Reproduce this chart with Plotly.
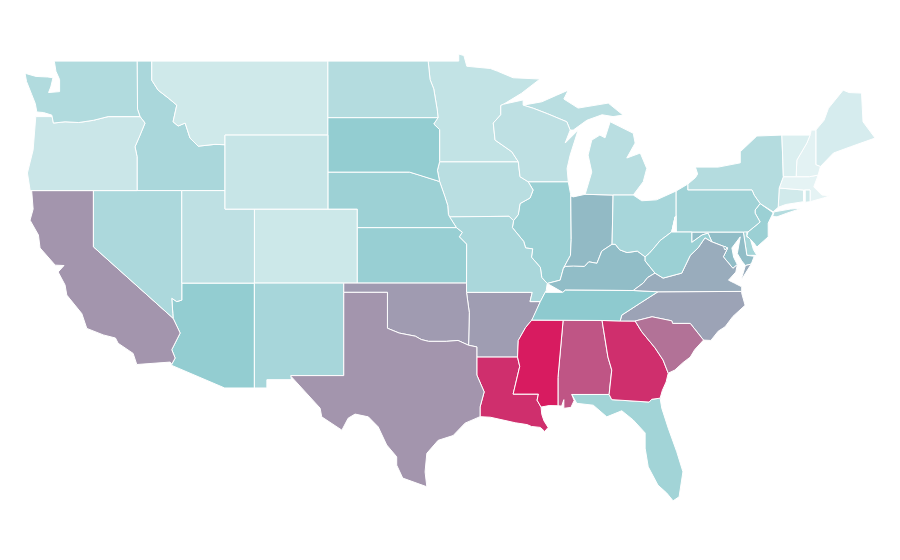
"""
US states coloured by value, on a plain lon/lat plot.

The geo subplot needs a topojson file from the CDN and there is no network,
so the state outlines are rough lon/lat lists written out here.
"""

import plotly.colors as pc
import plotly.graph_objects as go

states = ["AL", "AZ", "AR", "CA", "CO", "CT", "DE", "FL", "GA", "ID", "IL", "IN", "IA", "KS", "KY", "LA",
          "ME", "MD", "MA", "MI", "MN", "MS", "MO", "MT", "NE", "NV", "NH", "NJ", "NM", "NY", "NC", "ND",
          "OH", "OK", "OR", "PA", "RI", "SC", "SD", "TN", "TX", "UT", "VT", "VA", "WA", "WV", "WI", "WY", "DC"]
values = [80, 37, 55, 58, 14, 12, 30, 31, 93, 28, 34, 45, 22, 35, 44, 93,
          10, 44, 4, 22, 18, 100, 28, 13, 33, 27, 5, 34, 29, 24, 53, 24,
          29, 56, 15, 32, 13, 70, 37, 39, 58, 20, 8, 50, 25, 34, 20, 16, 44]

colorscale = [[0, "#eff8f8"], [0.4, "#8cc9ce"], [1, "#d81b60"]]

# Shared borders, as (lon, lat)
mn_wi = [(-92.1, 46.67), (-92.29, 46.6), (-92.29, 46.1), (-92.8, 45.65), (-92.68, 44.73), (-91.54, 44.1), (-91.1, 43.56)]
wi_ia = [(-91.1, 43.56), (-90.98, 42.75), (-90.43, 42.48)]
il_ia = [(-90.43, 42.48), (-90.09, 42.03), (-90.3, 41.6), (-90.98, 41.3), (-91.1, 40.7), (-91.42, 40.38)]
il_mo = [(-91.42, 40.38), (-91.5, 40.0), (-90.73, 39.25), (-90.6, 38.9), (-90.12, 38.85), (-90.2, 38.4), (-89.6, 37.85), (-89.5, 37.3), (-89.13, 36.98)]
ky_mo = [(-89.13, 36.98), (-89.2, 36.6), (-89.27, 36.5)]
tn_mo = [(-89.27, 36.5), (-89.6, 36.0)]
tn_ar = [(-89.6, 36.0), (-90.07, 35.13), (-90.18, 35.0)]
ms_ar = [(-90.18, 35.0), (-90.6, 34.6), (-91.1, 33.9), (-91.15, 33.0)]
ms_la = [(-91.15, 33.0), (-91.0, 32.5), (-91.45, 31.0), (-89.73, 31.0), (-89.82, 30.67), (-89.55, 30.3)]
il_ky = [(-89.13, 36.98), (-88.25, 37.16), (-88.03, 37.8)]
in_ky = [(-88.03, 37.8), (-87.9, 37.9), (-87.36, 37.92), (-86.6, 37.9), (-86.3, 38.15), (-85.75, 38.07), (-85.42, 38.73), (-84.72, 39.1)]
oh_ky = [(-84.72, 39.1), (-84.5, 39.1), (-84.2, 38.8), (-83.7, 38.65), (-83.0, 38.73), (-82.47, 38.42)]
oh_wv = [(-82.47, 38.42), (-82.2, 38.6), (-81.8, 38.96), (-81.45, 39.3), (-80.66, 39.77), (-80.43, 40.58)]
ky_wv_va = [(-82.47, 38.42), (-82.47, 38.2), (-81.8, 37.54)]
va_wv = [(-81.8, 37.54), (-81.25, 37.27), (-79.98, 37.54), (-79.4, 38.5), (-78.87, 38.9), (-78.4, 39.45), (-77.93, 39.23)]
md_va = [(-76.2, 38.0), (-76.5, 37.8), (-77.15, 38.42), (-76.85, 38.9), (-77.93, 39.23)]
md_wv = [(-77.93, 39.23), (-78.19, 39.7), (-78.6, 39.6), (-79.3, 39.2), (-79.3, 39.76)]
wa_or = [(-116.83, 46.0), (-119.0, 46.0), (-120.0, 45.8), (-121.0, 45.68), (-121.93, 45.72), (-122.72, 45.65), (-122.83, 46.08), (-123.4, 46.22), (-123.85, 46.25)]
id_or = [(-117.03, 42.0), (-117.03, 43.83), (-117.17, 44.37), (-116.85, 44.95), (-116.49, 45.65), (-116.83, 46.0)]
id_mt = [(-116.03, 49.0), (-116.03, 47.97), (-115.6, 47.43), (-114.9, 47.0), (-114.33, 46.62), (-114.58, 45.72), (-114.24, 45.49), (-113.76, 45.65), (-113.43, 44.84), (-112.87, 44.4), (-111.73, 44.5), (-111.05, 44.48)]
ca_az = [(-114.58, 35.1), (-114.1, 34.3), (-114.67, 33.4), (-114.44, 32.95), (-114.67, 32.62)]
nv_az = [(-113.99, 36.08), (-114.33, 36.0), (-114.67, 36.18), (-114.6, 35.37), (-114.58, 35.1)]
nd_mn = [(-97.23, 49.0), (-97.1, 48.0), (-96.85, 47.5), (-96.6, 46.3), (-96.56, 45.94)]
sd_mn = [(-96.56, 45.94), (-96.85, 45.6), (-96.45, 45.3), (-96.45, 43.56)]
sd_ia = [(-96.45, 43.56), (-96.6, 43.1), (-96.45, 42.49)]
sd_ne = [(-96.45, 42.49), (-97.85, 42.85), (-98.5, 43.0), (-104.05, 43.0)]
ne_ia = [(-96.45, 42.49), (-96.1, 41.7), (-95.9, 41.2), (-95.85, 40.7), (-95.77, 40.58)]
ne_mo = [(-95.77, 40.58), (-95.31, 40.0)]
ks_mo = [(-95.31, 40.0), (-94.9, 39.75), (-95.1, 39.5), (-94.61, 39.11), (-94.62, 37.0)]
ok_tx = [(-100.0, 36.5), (-100.0, 34.56), (-99.2, 34.3), (-98.1, 34.13), (-97.7, 33.95), (-97.2, 33.85), (-96.6, 33.85), (-96.0, 33.85), (-95.2, 33.9), (-94.48, 33.64)]
ar_ok = [(-94.62, 36.5), (-94.43, 35.4), (-94.48, 33.64)]
ar_tx_la = [(-94.48, 33.64), (-93.92, 33.55), (-93.92, 33.0)]
tx_la = [(-93.92, 33.0), (-93.92, 32.03), (-93.42, 31.12), (-93.7, 30.3), (-93.7, 29.78)]
ms_al = [(-88.05, 35.0), (-88.4, 31.9), (-88.4, 30.37)]
al_ga = [(-85.4, 34.98), (-85.0, 33.0), (-84.74, 32.3), (-84.85, 31.55), (-84.92, 30.98)]
ga_fl = [(-84.92, 30.98), (-84.74, 30.7), (-82.2, 30.57), (-82.02, 30.72), (-81.45, 30.78)]
ga_sc = [(-83.15, 34.95), (-82.7, 34.37), (-81.8, 33.5), (-81.25, 32.84), (-80.9, 32.13)]
nc_sc = [(-83.15, 34.95), (-82.0, 35.18), (-80.66, 34.96), (-80.6, 34.82), (-79.4, 34.82), (-78.5, 33.92)]
nc_tn = [(-84.17, 34.95), (-84.06, 35.27), (-82.8, 35.92), (-81.6, 36.53)]
ky_va = [(-83.28, 36.6), (-82.6, 37.0), (-82.3, 37.3), (-81.8, 37.54)]
pa_nj = [(-75.47, 39.77), (-74.65, 40.3), (-74.99, 40.78), (-74.99, 40.95), (-74.65, 41.3)]
in_il = [(-87.53, 41.71), (-87.5, 39.35), (-87.55, 38.5), (-88.03, 37.8)]
vt_nh = [(-71.25, 45.0), (-71.47, 44.57), (-72.15, 43.65), (-72.2, 42.75)]
wi_up = [(-90.77, 46.62), (-90.08, 46.45), (-89.1, 46.15), (-87.8, 45.72), (-87.57, 45.27)]


def rev(points):
    return points[::-1]


outlines = {
    "WA": [[(-124.65, 48.34), (-123.9, 48.17), (-123.1, 48.14), (-122.75, 48.1), (-122.9, 47.6), (-123.05, 47.3), (-122.3, 47.35), (-122.3, 48.0), (-122.55, 48.45), (-122.66, 49.0), (-117.03, 49.0), (-117.0, 46.4)] + wa_or + [(-123.95, 46.7), (-124.2, 47.2), (-124.55, 47.9)]],
    "OR": [rev(wa_or) + [(-123.92, 46.0), (-124.1, 44.2), (-124.49, 42.95), (-124.3, 42.0)] + id_or],
    "ID": [[(-117.03, 49.0)] + id_mt + [(-111.05, 42.0)] + id_or + [(-117.0, 46.4)]],
    "MT": [[(-116.03, 49.0), (-104.05, 49.0), (-104.05, 45.0), (-111.05, 45.0)] + rev(id_mt)],
    "WY": [[(-111.05, 45.0), (-104.05, 45.0), (-104.05, 41.0), (-111.05, 41.0)]],
    "CO": [[(-109.05, 41.0), (-102.05, 41.0), (-102.05, 37.0), (-109.05, 37.0)]],
    "UT": [[(-113.99, 42.0), (-111.05, 42.0), (-111.05, 41.0), (-109.05, 41.0), (-109.05, 37.0), (-113.99, 37.0)]],
    "NV": [[(-120.0, 42.0), (-113.99, 42.0), (-113.99, 37.0)] + nv_az + [(-120.0, 38.96)]],
    "AZ": [[(-113.99, 37.0), (-109.05, 37.0), (-109.05, 31.33), (-111.07, 31.33), (-114.67, 32.55)] + rev(ca_az) + rev(nv_az)],
    "NM": [[(-109.05, 37.0), (-102.97, 37.0), (-102.97, 32.0), (-106.57, 32.0), (-106.53, 31.78), (-108.2, 31.78), (-108.2, 31.33), (-109.05, 31.33)]],
    "CA": [[(-124.2, 42.0), (-120.0, 42.0), (-120.0, 38.96)] + ca_az + [(-114.78, 32.73), (-117.05, 32.6), (-117.3, 33.2), (-118.32, 33.75), (-118.5, 34.03), (-119.33, 34.2), (-120.45, 34.55), (-120.79, 35.35), (-121.81, 36.35), (-121.93, 36.9), (-122.4, 37.6), (-122.0, 37.95), (-122.6, 37.97), (-123.63, 38.9), (-123.74, 39.6), (-124.31, 40.4), (-124.1, 41.0)]],
    "ND": [[(-104.05, 49.0)] + nd_mn + [(-104.05, 45.94)]],
    "SD": [[(-104.05, 45.94)] + sd_mn + sd_ia + sd_ne],
    "NE": [rev(sd_ne) + ne_ia + ne_mo + [(-102.05, 40.0), (-102.05, 41.0), (-104.05, 41.0)]],
    "KS": [[(-102.05, 40.0)] + ks_mo + [(-102.05, 37.0)]],
    "OK": [[(-102.97, 37.0), (-94.62, 37.0)] + ar_ok + rev(ok_tx) + [(-102.97, 36.5)]],
    "TX": [[(-106.57, 32.0), (-102.97, 32.0), (-102.97, 36.5)] + ok_tx + ar_tx_la + tx_la + [(-94.72, 29.43), (-95.53, 28.76), (-96.55, 28.5), (-97.32, 27.8), (-97.44, 26.8), (-97.32, 25.99), (-98.96, 26.46), (-99.37, 27.16), (-99.37, 27.61), (-100.05, 28.25), (-100.63, 29.23), (-101.3, 29.77), (-102.2, 29.92), (-102.67, 29.7), (-103.1, 29.05), (-104.47, 29.77), (-104.58, 30.24), (-106.57, 31.97)]],
    "AR": [[(-94.62, 36.5), (-90.15, 36.5), (-90.3, 36.0)] + tn_ar + ms_ar + rev(ar_tx_la) + rev(ar_ok)],
    "LA": [[(-93.92, 33.0)] + ms_la + [(-89.5, 29.9), (-89.35, 29.55), (-89.07, 29.2), (-89.3, 28.98), (-89.6, 29.2), (-90.2, 29.25), (-90.5, 29.35), (-91.3, 29.45), (-92.1, 29.6), (-93.0, 29.75)] + rev(tx_la)],
    "MS": [rev(ms_la) + rev(ms_ar) + ms_al + [(-89.0, 30.38)]],
    "AL": [ms_al[:1] + al_ga + [(-87.46, 30.98), (-87.3, 30.65), (-87.52, 30.28), (-88.0, 30.23), (-88.0, 30.7), (-88.15, 30.35)] + rev(ms_al)],
    "GA": [al_ga + ga_fl + [(-81.3, 31.2), (-81.04, 31.66)] + rev(ga_sc) + [(-84.17, 34.95)]],
    "FL": [[(-87.46, 30.98)] + ga_fl + [(-81.34, 30.24), (-80.9, 29.16), (-80.32, 27.88), (-79.9, 26.8), (-80.16, 25.45), (-80.57, 25.23), (-81.0, 25.65), (-81.6, 26.08), (-82.26, 27.07), (-82.47, 28.08), (-82.47, 28.9), (-83.28, 29.6), (-84.06, 30.1), (-85.08, 29.77), (-86.0, 30.4), (-87.12, 30.5)]],
    "SC": [nc_sc + [(-79.1, 33.4), (-79.4, 33.0), (-79.9, 32.7), (-80.45, 32.3)] + rev(ga_sc)],
    "NC": [nc_tn + [(-75.9, 36.55), (-75.9, 36.45), (-75.67, 35.8), (-76.5, 35.2), (-77.03, 34.64), (-77.5, 34.4), (-78.0, 33.9)] + rev(nc_sc)],
    "TN": [[(-90.18, 35.0), (-88.05, 35.0), (-85.4, 34.98)] + nc_tn + [(-83.28, 36.6), (-87.9, 36.62), (-88.07, 36.5), (-89.27, 36.5)] + tn_mo + tn_ar],
    "KY": [rev(ky_mo) + [(-88.07, 36.5), (-87.9, 36.62)] + ky_va + rev(ky_wv_va) + rev(oh_ky) + rev(in_ky) + rev(il_ky)],
    "VA": [[(-83.28, 36.6), (-81.6, 36.53), (-75.9, 36.55), (-75.9, 36.8), (-76.4, 37.0), (-76.8, 37.16), (-76.3, 37.6)] + md_va + rev(va_wv) + rev(ky_va),
           [(-75.95, 37.15), (-75.65, 37.95), (-75.25, 38.03)]],
    "WV": [ky_wv_va + va_wv + md_wv + [(-80.66, 39.76)] + rev(oh_wv)[:1] + [(-80.36, 40.64), (-80.36, 39.76)] + rev(oh_wv)],
    "MD": [[(-79.3, 39.76), (-75.79, 39.76), (-75.55, 38.5), (-75.05, 38.45), (-75.25, 38.03), (-75.65, 37.95), (-75.9, 38.2), (-76.2, 38.6), (-76.0, 39.5), (-76.57, 38.9), (-76.45, 38.4)] + md_va + md_wv[1:]],
    "DE": [[(-75.79, 39.76), (-75.55, 39.87), (-75.55, 39.5), (-75.33, 39.43), (-75.1, 38.8), (-74.87, 38.5), (-75.55, 38.5)]],
    "DC": [[(-77.12, 38.93), (-77.04, 39.0), (-76.91, 38.89), (-77.04, 38.79)]],
    "PA": [[(-80.36, 41.98), (-79.57, 42.35), (-79.57, 42.03), (-75.2, 42.03), (-75.05, 41.75)] + rev(pa_nj) + [(-75.79, 39.76), (-80.36, 39.76)]],
    "NJ": [pa_nj + [(-73.76, 40.8), (-74.1, 40.24), (-74.1, 39.5), (-74.87, 38.95), (-75.1, 39.2), (-75.55, 39.55)]],
    "NY": [[(-79.57, 42.35), (-79.05, 42.7), (-78.9, 42.9), (-79.05, 43.27), (-77.5, 43.27), (-76.0, 43.5), (-76.0, 44.1), (-74.87, 44.95), (-73.17, 45.0), (-73.1, 43.55), (-73.07, 42.75), (-73.35, 42.14), (-73.42, 41.2), (-73.42, 41.1), (-73.76, 40.85), (-74.65, 41.3), (-75.05, 41.75), (-75.2, 42.03), (-79.57, 42.03)],
           [(-73.8, 40.6), (-73.7, 40.85), (-72.6, 41.0), (-71.81, 41.05), (-72.83, 40.78), (-73.5, 40.58)]],
    "CT": [[(-73.35, 42.14), (-71.7, 42.03), (-71.7, 41.4), (-72.9, 41.25), (-73.42, 41.1)]],
    "RI": [[(-71.58, 42.03), (-71.25, 42.03), (-71.25, 41.4), (-71.58, 41.37)]],
    "MA": [[(-73.35, 42.14), (-73.07, 42.75), (-72.2, 42.75), (-71.3, 42.75), (-70.7, 42.84), (-71.0, 42.2), (-70.45, 41.76), (-69.9, 41.72), (-70.35, 41.6), (-71.25, 41.4), (-71.25, 42.03), (-71.7, 42.03)]],
    "VT": [[(-73.17, 45.0)] + vt_nh + [(-73.07, 42.75), (-73.1, 43.55)]],
    "NH": [vt_nh + [(-71.3, 42.75), (-70.7, 42.84), (-70.55, 43.3), (-70.86, 43.4), (-70.86, 45.27), (-71.17, 45.27)]],
    "ME": [[(-70.86, 45.27), (-70.3, 45.8), (-70.0, 46.45), (-69.0, 47.43), (-68.6, 47.3), (-67.75, 47.27), (-67.65, 45.72), (-66.83, 44.84), (-68.5, 44.37), (-69.66, 44.03), (-70.55, 43.3), (-70.86, 43.4)]],
    "OH": [[(-84.72, 39.1), (-84.65, 41.76), (-83.28, 41.76), (-82.7, 41.45), (-81.7, 41.5), (-80.36, 41.98), (-80.36, 40.64)] + rev(oh_wv) + rev(oh_ky)],
    "IN": [[(-87.53, 41.71), (-87.36, 41.66), (-86.55, 41.8), (-84.65, 41.76)] + rev(in_ky) + rev(in_il)],
    "IL": [wi_ia[-1:] + [(-87.7, 42.48), (-87.55, 41.85)] + in_il + rev(il_ky) + rev(il_mo) + rev(il_ia)],
    "MI": [[(-86.55, 41.8), (-86.1, 43.0), (-86.35, 43.92), (-86.1, 44.73), (-85.55, 45.0), (-85.2, 44.85), (-84.85, 45.72), (-83.28, 45.1), (-83.15, 44.57), (-83.72, 43.76), (-82.8, 44.03), (-82.36, 43.2), (-82.6, 42.48), (-83.28, 41.76), (-84.65, 41.76)],
           wi_up + [(-87.36, 45.27), (-86.44, 45.8), (-85.4, 46.1), (-84.65, 46.0), (-83.97, 46.08), (-84.98, 46.73), (-87.03, 46.46), (-88.0, 46.95), (-87.7, 47.43), (-88.48, 47.16), (-89.5, 46.8)]],
    "WI": [[(-92.1, 46.67), (-90.77, 46.9)] + wi_up + [(-87.91, 44.57), (-87.03, 45.27), (-87.57, 43.92), (-87.78, 43.2), (-87.7, 42.48)] + rev(wi_ia) + rev(mn_wi)],
    "MN": [[(-97.23, 49.0), (-95.15, 49.0), (-95.15, 49.38), (-94.8, 49.3), (-94.6, 48.72), (-93.0, 48.6), (-92.5, 48.45), (-91.45, 48.1), (-89.62, 48.03), (-90.9, 47.25)] + mn_wi + rev(sd_mn) + rev(nd_mn)],
    "IA": [[(-96.45, 43.56)] + wi_ia + il_ia[1:] + [(-91.73, 40.61)] + rev(ne_ia) + [(-96.6, 43.1)]],
    "MO": [[(-95.77, 40.58), (-91.73, 40.61)] + il_mo + ky_mo + tn_mo + [(-90.3, 36.0), (-90.15, 36.5), (-94.62, 36.5)] + rev(ks_mo) + rev(ne_mo)],
}

fig = go.Figure()
for state, value in zip(states, values):
    color = pc.sample_colorscale(colorscale, [value / 100])[0]
    lons, lats = [], []
    for ring in outlines[state]:
        lons += [p[0] for p in ring] + [ring[0][0], None]
        lats += [p[1] for p in ring] + [ring[0][1], None]
    fig.add_trace(go.Scatter(x=lons, y=lats, mode="lines", fill="toself", fillcolor=color,
                             line=dict(color="white", width=1), name=state,
                             text=f"{state}: {value}", hoverinfo="text"))

# Page has an 8px body margin, so the ranges are moved to line the map up
fig.update_xaxes(visible=False, range=[-125.81, -64.59])
fig.update_yaxes(visible=False, range=[21.6, 51.87])
fig.update_layout(width=900, height=560, margin=dict(l=0, r=0, t=0, b=0), showlegend=False,
                  paper_bgcolor="white", plot_bgcolor="white")
fig.write_html("out.html")
